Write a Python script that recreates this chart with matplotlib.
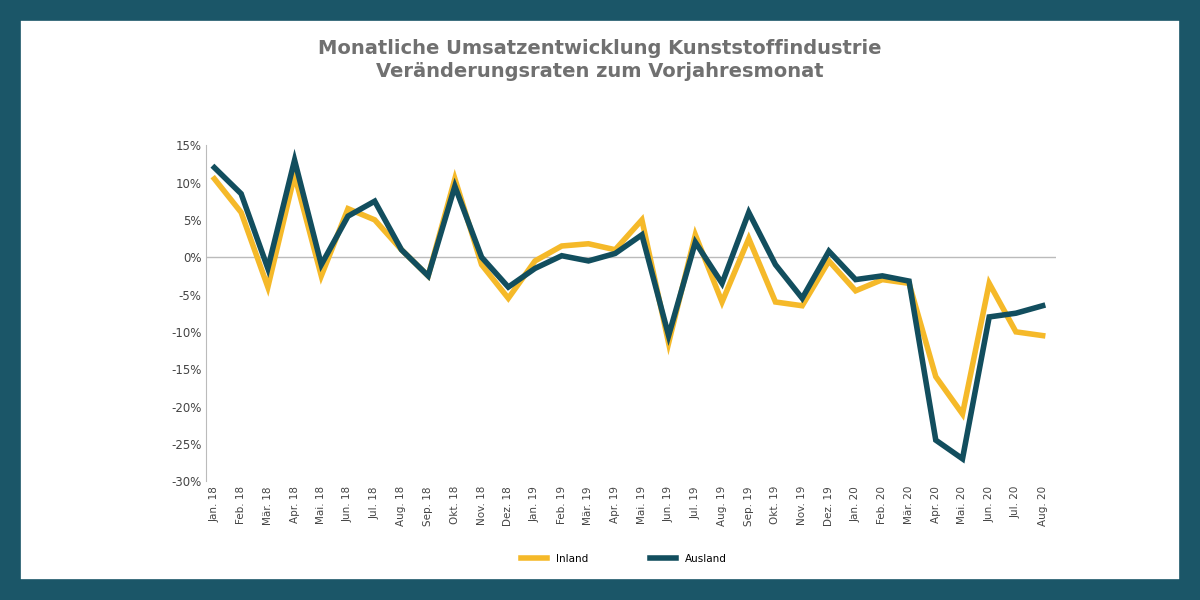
import matplotlib
matplotlib.use("Agg")
import matplotlib.pyplot as plt
from matplotlib.patches import Rectangle
from matplotlib.ticker import FuncFormatter

months = ["Jan.", "Feb.", "Mär.", "Apr.", "Mai.", "Jun.", "Jul.", "Aug.",
          "Sep.", "Okt.", "Nov.", "Dez."]
labels = [f"{m} {y}" for y in ("18", "19") for m in months] + \
         [f"{m} 20" for m in months[:8]]

inland = [10.5, 6, -4, 11, -2.5, 6.5, 5, 1, -2.5, 10.5, -1, -5.5,
          -0.5, 1.5, 1.8, 1, 5, -11.5, 3, -6, 2.5, -6, -6.5, -0.5,
          -4.5, -3, -3.5, -16, -21, -3.5, -10, -10.5]
ausland = [12, 8.5, -1.5, 13, -1, 5.5, 7.5, 1, -2.5, 9.5, 0, -4,
           -1.5, 0.2, -0.5, 0.5, 3, -10.5, 2, -3.5, 6, -1, -5.5, 0.8,
           -3, -2.5, -3.2, -24.5, -27, -8, -7.5, -6.5]

fig = plt.figure(figsize=(12, 6), dpi=100)
fig.patch.set_facecolor("white")
# dark frame around the picture
fig.add_artist(Rectangle((0, 0), 1, 1, transform=fig.transFigure,
                         fill=False, edgecolor="#1b5668", linewidth=30))

ax = fig.add_axes([0.172, 0.198, 0.708, 0.56])
x = range(len(labels))
ax.plot(x, inland, color="#f5b929", lw=4, label="Inland", solid_joinstyle="miter")
ax.plot(x, ausland, color="#124e5e", lw=4, label="Ausland", solid_joinstyle="miter")

ax.set_ylim(-30, 15)
ax.set_yticks(range(-30, 16, 5))
ax.yaxis.set_major_formatter(FuncFormatter(lambda v, p: f"{int(v)}%"))
ax.set_xlim(-0.3, len(labels) - 0.5)
ax.set_xticks(list(x))
ax.set_xticklabels(labels, rotation=90, fontsize=7.5, color="#444444")
ax.tick_params(axis="y", labelsize=8.5, colors="#444444", length=0)
ax.tick_params(axis="x", length=0)
for s in ("top", "right", "bottom"):
    ax.spines[s].set_visible(False)
ax.spines["left"].set_color("#bbbbbb")
ax.axhline(0, color="#bbbbbb", lw=1, zorder=0)

fig.text(0.5, 0.9, "Monatliche Umsatzentwicklung Kunststoffindustrie\n"
         "Veränderungsraten zum Vorjahresmonat", ha="center", va="center",
         fontsize=14, fontweight="bold", color="#707070", linespacing=1.3)
fig.legend(loc="lower center", bbox_to_anchor=(0.52, 0.045), ncol=2,
           frameon=False, fontsize=7.5, handlelength=2.5, columnspacing=6)

fig.savefig("out.png", dpi=100)
